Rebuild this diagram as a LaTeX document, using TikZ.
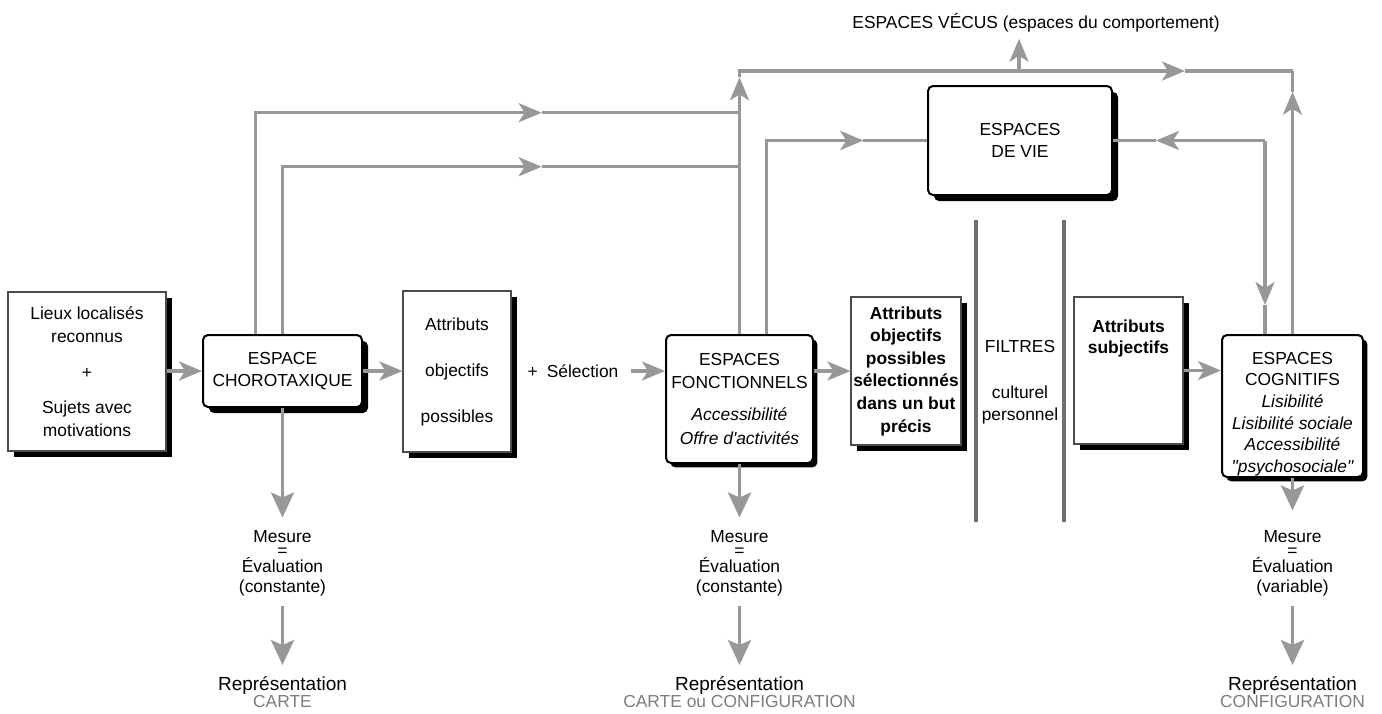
\documentclass[tikz,border=0pt]{standalone}
\usepackage{fontspec}
\setmainfont{Liberation Sans}
\newfontfamily\rawsans{Liberation Sans}
\usetikzlibrary{arrows.meta,shadows,positioning}

\definecolor{flowgray}{RGB}{152,152,154}
\definecolor{filtergray}{RGB}{112,112,114}
\definecolor{notegray}{RGB}{125,125,127}

\tikzset{
  box/.style={fill=white, align=center, inner sep=0pt},
  ombre/.style={drop shadow={shadow xshift=#1, shadow yshift=-#1, fill=black, opacity=1}},
  ombre/.default=3pt,
  sqbox/.style={box, draw=black!70, line width=0.6pt, ombre},
  rbox/.style={box, draw=black, line width=1pt, rounded corners=2.5pt},
  txt/.style={align=center, inner sep=0pt},
  link/.style={draw=flowgray, line width=1.7pt},
  flow/.style={link, -{Stealth[length=11.5pt, width=9.5pt, inset=3pt]}},
  bigflow/.style={link, -{Stealth[length=12.5pt, width=11.5pt, inset=2.5pt]}},
  filtre/.style={draw=filtergray, line width=2pt},
}

\begin{document}
\begin{tikzpicture}[x=0.5pt, y=-0.5pt, font=\fontsize{8.7}{11.3}\selectfont]
\useasboundingbox (0,0) rectangle (1382,713);

\node[sqbox, minimum width=79pt, minimum height=79.5pt] (lieux) at (87,371.5)
  {Lieux localisés\\reconnus\\[7pt]+\\[6pt]Sujets avec\\motivations};
\node[rbox, ombre, minimum width=79.5pt, minimum height=36pt] (choro) at (282.5,371)
  {ESPACE\\CHOROTAXIQUE};
\node[sqbox, minimum width=54pt, minimum height=80.5pt] (attr1) at (457,371.5)
  {Attributs\\[11.7pt]objectifs\\[11.7pt]possibles};
\node[txt] (selec) at (573,371) {+\hspace{4.5pt}Sélection};
\node[rbox, ombre=2.2pt, minimum width=73.5pt, minimum height=64pt] (fonct) at (739.5,399)
  {ESPACES\\FONCTIONNELS\\[4.5pt]\textit{Accessibilité}\\[0.7pt]{\rawsans\itshape Offre d'activités}};
\node[sqbox, font=\fontsize{8.7}{11.3}\selectfont\bfseries, minimum width=55pt, minimum height=74pt] (attr2) at (906,371)
  {Attributs\\objectifs\\possibles\\sélectionnés\\dans un but\\précis};
\node[sqbox, minimum width=54.5pt, minimum height=73.5pt] (attr3) at (1128.5,370.5) {};
\node[txt, font=\fontsize{8.7}{10.8}\selectfont\bfseries] (attr3txt) at (1128.5,338.5) {Attributs\\subjectifs};
\node[rbox, ombre=2.2pt, minimum width=70.5pt, minimum height=71pt] (cogn) at (1292.5,406) {};
\node[txt, font=\fontsize{8.7}{10.8}\selectfont] (cogntxt) at (1292.5,414)
  {ESPACES\\COGNITIFS\\\textit{Lisibilité}\\\textit{Lisibilité sociale}\\\textit{Accessibilité}\\{\rawsans\itshape "psychosociale"}};
\node[rbox, ombre, minimum width=92pt, minimum height=54.5pt] (vie) at (1020,140.5) {ESPACES\\DE VIE};
\node[txt, inner sep=3pt] (vecus) at (1036,23) {ESPACES VÉCUS (espaces du comportement)};

\draw[filtre] (975.5,220) -- (975.5,521.7);
\draw[filtre] (1064.3,220) -- (1064.3,521.7);
\node[txt] (filtres) at (1020,347) {FILTRES};
\node[txt] (filtretypes) at (1020,405) {culturel\\personnel};

\node[txt, anchor=north] (mes1) at (282.5,530.5) {Mesure\\[-4.3pt]=\\[-3.3pt]Évaluation\\[-1.3pt](constante)};
\node[txt, anchor=north] (mes2) at (739.5,530.5) {Mesure\\[-4.3pt]=\\[-3.3pt]Évaluation\\[-1.3pt](constante)};
\node[txt, anchor=north] (mes3) at (1292.5,530.5) {Mesure\\[-4.3pt]=\\[-3.3pt]Évaluation\\[-1.3pt](variable)};
\node[txt, anchor=north] (rep1) at (282.5,676) {{\fontsize{9.5}{11}\selectfont Représentation}\\[-2.8pt]\textcolor{notegray}{CARTE}};
\node[txt, anchor=north] (rep2) at (739.5,676) {{\fontsize{9.5}{11}\selectfont Représentation}\\[-2.8pt]\textcolor{notegray}{CARTE ou CONFIGURATION}};
\node[txt, anchor=north] (rep3) at (1292.5,676) {{\fontsize{9.5}{11}\selectfont Représentation}\\[-2.8pt]\textcolor{notegray}{CONFIGURATION}};

\coordinate (m1) at (541.7,112.7);
\coordinate (m2) at (541.7,166.7);
\coordinate (t1) at (739.5,77.3);
\coordinate (nw) at (739.5,71);
\coordinate (ne) at (1292.5,71);
\coordinate (m3) at (1185,71);
\coordinate (jv) at (1019,71);
\coordinate (t2) at (1292.5,91.7);
\coordinate (m4) at (863.3,140.5);
\coordinate (k2) at (1265,140.5);
\coordinate (m5) at (1156,140.5);
\coordinate (m6) at (1265,305);

\draw[flow] (lieux.east |- choro.west) -- (choro.west);
\draw[flow] (choro.east) -- (choro.east -| attr1.west);
\draw[flow] ([xshift=6pt]selec.east) -- (selec.east -| fonct.west);
\draw[flow] (fonct.east |- attr2.west) -- (attr2.west);
\draw[flow] (attr3.east) -- (attr3.east -| cogn.west);

\draw[flow] ([xshift=-13.5pt]choro.north) |- (m1);
\draw[link] (m1) -- (m1 -| fonct.north);
\draw[flow] (choro.north) |- (m2);
\draw[link] (m2) -- (m2 -| fonct.north);
\draw[flow] (fonct.north) -- (t1);
\draw[flow] (t1) -- (nw) -- (m3);
\draw[link] (m3) -- (ne);
\draw[flow] (jv) -- (jv |- vecus.south);
\draw[flow] (cogn.north) -- (t2);
\draw[link] (t2) -- (ne);
\draw[flow] ([xshift=13.5pt]fonct.north) |- (m4);
\draw[link] (m4) -- (vie.west);
\draw[flow] (k2) -- (m5);
\draw[link] (m5) -- (vie.east);
\draw[flow] (k2) -- (m6);
\draw[link] (m6) -- (m6 |- cogn.north);

\draw[bigflow, shorten >=6.5pt] (choro.south) -- (mes1.north);
\draw[bigflow, shorten >=6.5pt] (fonct.south) -- (mes2.north);
\draw[bigflow, shorten >=10pt] (cogn.south) -- (mes3.north);
\draw[bigflow, shorten <=4.5pt, shorten >=5.5pt] (mes1.south) -- (rep1.north);
\draw[bigflow, shorten <=4.5pt, shorten >=5.5pt] (mes2.south) -- (rep2.north);
\draw[bigflow, shorten <=4.5pt, shorten >=5.5pt] (mes3.south) -- (rep3.north);
\end{tikzpicture}
\end{document}
